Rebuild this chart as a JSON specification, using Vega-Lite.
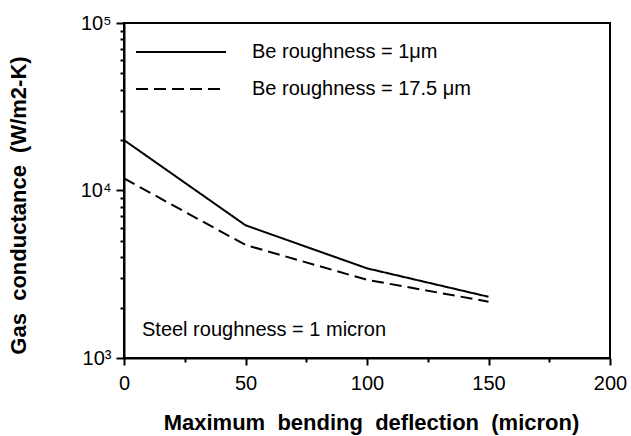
{
  "$schema": "https://vega.github.io/schema/vega-lite/v6.json",
  "width": 486,
  "height": 335,
  "autosize": "none",
  "padding": {"left": 124, "top": 23, "right": 21, "bottom": 78},
  "background": "white",
  "config": {
    "view": {"stroke": "black", "strokeWidth": 2},
    "font": "Liberation Sans",
    "axis": {"ticks": true, "tickWidth": 2, "tickColor": "black", "tickOpacity": 1, "grid": false}
  },
  "data": {
    "values": [
      {"deflection": 0, "conductance": 20000, "series": "Be roughness = 1\u03bcm"},
      {"deflection": 50, "conductance": 6200, "series": "Be roughness = 1\u03bcm"},
      {"deflection": 100, "conductance": 3430, "series": "Be roughness = 1\u03bcm"},
      {"deflection": 150, "conductance": 2320, "series": "Be roughness = 1\u03bcm"},
      {"deflection": 0, "conductance": 11800, "series": "Be roughness = 17.5 \u03bcm"},
      {"deflection": 50, "conductance": 4730, "series": "Be roughness = 17.5 \u03bcm"},
      {"deflection": 100, "conductance": 2930, "series": "Be roughness = 17.5 \u03bcm"},
      {"deflection": 150, "conductance": 2170, "series": "Be roughness = 17.5 \u03bcm"}
    ]
  },
  "layer": [
    {
      "mark": {"type": "line", "color": "black", "strokeWidth": 2},
      "encoding": {
        "x": {
          "field": "deflection",
          "type": "quantitative",
          "scale": {"domain": [0, 200], "nice": false, "zero": false},
          "axis": {
            "values": [0, 25, 50, 75, 100, 125, 150, 175, 200],
            "labelExpr": "datum.value % 50 == 0 ? datum.label : ''",
            "domainColor": "black",
            "domainWidth": 2,
            "tickSize": {"condition": {"test": "datum.value % 50 == 0", "value": 7}, "value": 4},
            "labelFont": "Liberation Sans",
            "labelFontSize": 20,
            "labelColor": "black",
            "labelPadding": 8,
            "labelFlush": false,
            "labelOverlap": false,
            "title": "Maximum\u00a0\u00a0bending\u00a0\u00a0deflection\u00a0\u00a0(micron)",
            "titleFont": "Liberation Sans",
            "titleFontSize": 22,
            "titleFontWeight": "bold",
            "titleColor": "black",
            "titleX": 247,
            "titleY": 64,
            "titleAlign": "center",
            "titleBaseline": "middle"
          }
        },
        "y": {
          "field": "conductance",
          "type": "quantitative",
          "scale": {"type": "log", "domain": [1000, 100000], "nice": false},
          "axis": {
            "values": [1000, 2000, 3000, 4000, 5000, 6000, 7000, 8000, 9000, 10000, 20000, 30000, 40000, 50000, 60000, 70000, 80000, 90000, 100000],
            "labelExpr": "datum.value == 1000 ? '10\u00b3' : datum.value == 10000 ? '10\u2074' : datum.value == 100000 ? '10\u2075' : ''",
            "domainColor": "black",
            "domainWidth": 2,
            "tickSize": {"condition": {"test": "indexof([1000, 10000, 100000], datum.value) >= 0", "value": 8}, "value": 4},
            "labelFont": "Liberation Sans",
            "labelFontSize": 20,
            "labelColor": "black",
            "labelPadding": 5,
            "labelFlush": false,
            "labelOverlap": false,
            "title": "Gas\u00a0\u00a0conductance\u00a0\u00a0(W/m2-K)",
            "titleFont": "Liberation Sans",
            "titleFontSize": 22,
            "titleFontWeight": "bold",
            "titleColor": "black",
            "titleX": -106,
            "titleY": 182,
            "titleAngle": -90,
            "titleAlign": "center",
            "titleBaseline": "middle"
          }
        },
        "strokeDash": {
          "field": "series",
          "type": "nominal",
          "scale": {
            "domain": ["Be roughness = 1\u03bcm", "Be roughness = 17.5 \u03bcm"],
            "range": [[1, 0], [12, 6]]
          },
          "legend": {
            "orient": "none",
            "legendX": 47,
            "legendY": 19,
            "padding": 0,
            "title": null,
            "symbolType": "M-5,0H5",
            "symbolSize": 324,
            "symbolStrokeWidth": 2,
            "symbolStrokeColor": "black",
            "labelOffset": 61,
            "labelFont": "Liberation Sans",
            "labelFontSize": 20,
            "labelColor": "black",
            "labelLimit": 400,
            "rowPadding": 17
          }
        }
      }
    },
    {
      "data": {"values": [{"note": "Steel roughness = 1 micron"}]},
      "mark": {"type": "text", "align": "left", "baseline": "middle", "font": "Liberation Sans", "fontSize": 20, "fontWeight": "normal", "color": "black"},
      "encoding": {
        "text": {"field": "note", "type": "nominal"},
        "x": {"datum": 7.4, "type": "quantitative"},
        "y": {"datum": 1470, "type": "quantitative"}
      }
    }
  ]
}
